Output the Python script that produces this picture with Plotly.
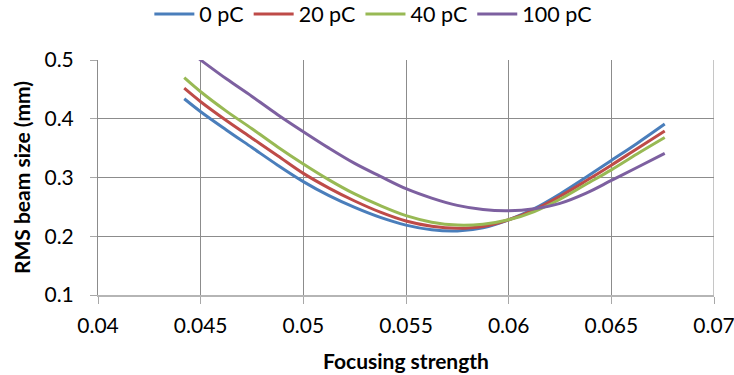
import plotly.graph_objects as go

# Focusing strength sample points
focusing_strength = [0.0442, 0.045, 0.04625, 0.0475, 0.04875, 0.05, 0.05125, 0.0525, 0.05375,
                     0.055, 0.05625, 0.0575, 0.05875, 0.06, 0.06125, 0.0625, 0.06375, 0.065,
                     0.06625, 0.0676]

# RMS beam size (mm) for each bunch charge
size_0pc = [0.434, 0.412, 0.381, 0.351, 0.321, 0.293, 0.269, 0.249, 0.232, 0.219, 0.211, 0.209,
            0.2145, 0.228, 0.247, 0.272, 0.300, 0.329, 0.358, 0.391]
size_20pc = [0.452, 0.429, 0.397, 0.367, 0.337, 0.307, 0.282, 0.260, 0.241, 0.226, 0.217, 0.2135,
             0.2165, 0.228, 0.245, 0.268, 0.294, 0.321, 0.349, 0.379]
size_40pc = [0.470, 0.446, 0.413, 0.383, 0.352, 0.323, 0.296, 0.272, 0.252, 0.235, 0.224, 0.219,
             0.2205, 0.228, 0.242, 0.263, 0.288, 0.313, 0.340, 0.368]
size_100pc = [0.521, 0.500, 0.468, 0.438, 0.407, 0.378, 0.350, 0.324, 0.302, 0.281, 0.265, 0.2525,
              0.2455, 0.2435, 0.247, 0.256, 0.273, 0.295, 0.317, 0.341]

series_names = ["0 pC", "20 pC", "40 pC", "100 pC"]
series_values = [size_0pc, size_20pc, size_40pc, size_100pc]
series_colors = ["#4A7EBB", "#BE4B48", "#98B954", "#7D60A0"]

x_ticks = [0.04, 0.045, 0.05, 0.055, 0.06, 0.065, 0.07]
x_tick_labels = ["0.04", "0.045", "0.05", "0.055", "0.06", "0.065", "0.07"]
y_ticks = [0.1, 0.2, 0.3, 0.4, 0.5]
y_tick_labels = ["0.1", "0.2", "0.3", "0.4", "0.5"]

FONT = "Lato, 'Open Sans', sans-serif"

fig = go.Figure()
for name, vals, color in zip(series_names, series_values, series_colors):
    fig.add_trace(go.Scatter(
        x=focusing_strength, y=vals, name=name, mode="lines",
        line=dict(color=color, width=3, shape="spline", smoothing=1.0),
    ))

grid_color = "#8C8C8C"
fig.update_layout(
    width=734, height=375,
    margin=dict(l=98, r=20, t=60, b=80, autoexpand=False),
    paper_bgcolor="white", plot_bgcolor="white",
    font=dict(family=FONT, size=21, color="#000000"),
    showlegend=True,
    legend=dict(
        orientation="h", x=0.447, xanchor="center", y=1.196, yanchor="middle",
        font=dict(family=FONT, size=21.5), itemwidth=40, tracegroupgap=0,
        bgcolor="rgba(0,0,0,0)",
    ),
    xaxis=dict(
        range=[0.04, 0.07], tickmode="array", tickvals=x_ticks, ticktext=x_tick_labels,
        showgrid=True, gridcolor=grid_color, gridwidth=1,
        showline=True, linecolor="#B5B5B5", linewidth=2,
        ticks="outside", ticklen=7, tickcolor="#A8A8A8", tickwidth=1,
        zeroline=False, mirror=False, ticklabelstandoff=4, ticklabeloverflow="allow",
        title=dict(text="<b>Focusing strength</b>", font=dict(family=FONT, size=21), standoff=18),
    ),
    yaxis=dict(
        range=[0.1, 0.5], tickmode="array", tickvals=y_ticks, ticktext=y_tick_labels,
        showgrid=True, gridcolor=grid_color, gridwidth=1,
        showline=True, linecolor=grid_color, linewidth=1,
        ticks="outside", ticklen=7, tickcolor="#A8A8A8", tickwidth=1,
        zeroline=False, ticklabelstandoff=12,
        title=dict(text="<b>RMS beam size (mm)</b>", font=dict(family=FONT, size=21), standoff=8),
    ),
)
# right-hand border of the plotting area
fig.add_shape(type="line", xref="x", yref="paper", x0=0.07, x1=0.07, y0=0, y1=1,
              line=dict(color=grid_color, width=1), layer="below")

fig.write_html("out.html")
